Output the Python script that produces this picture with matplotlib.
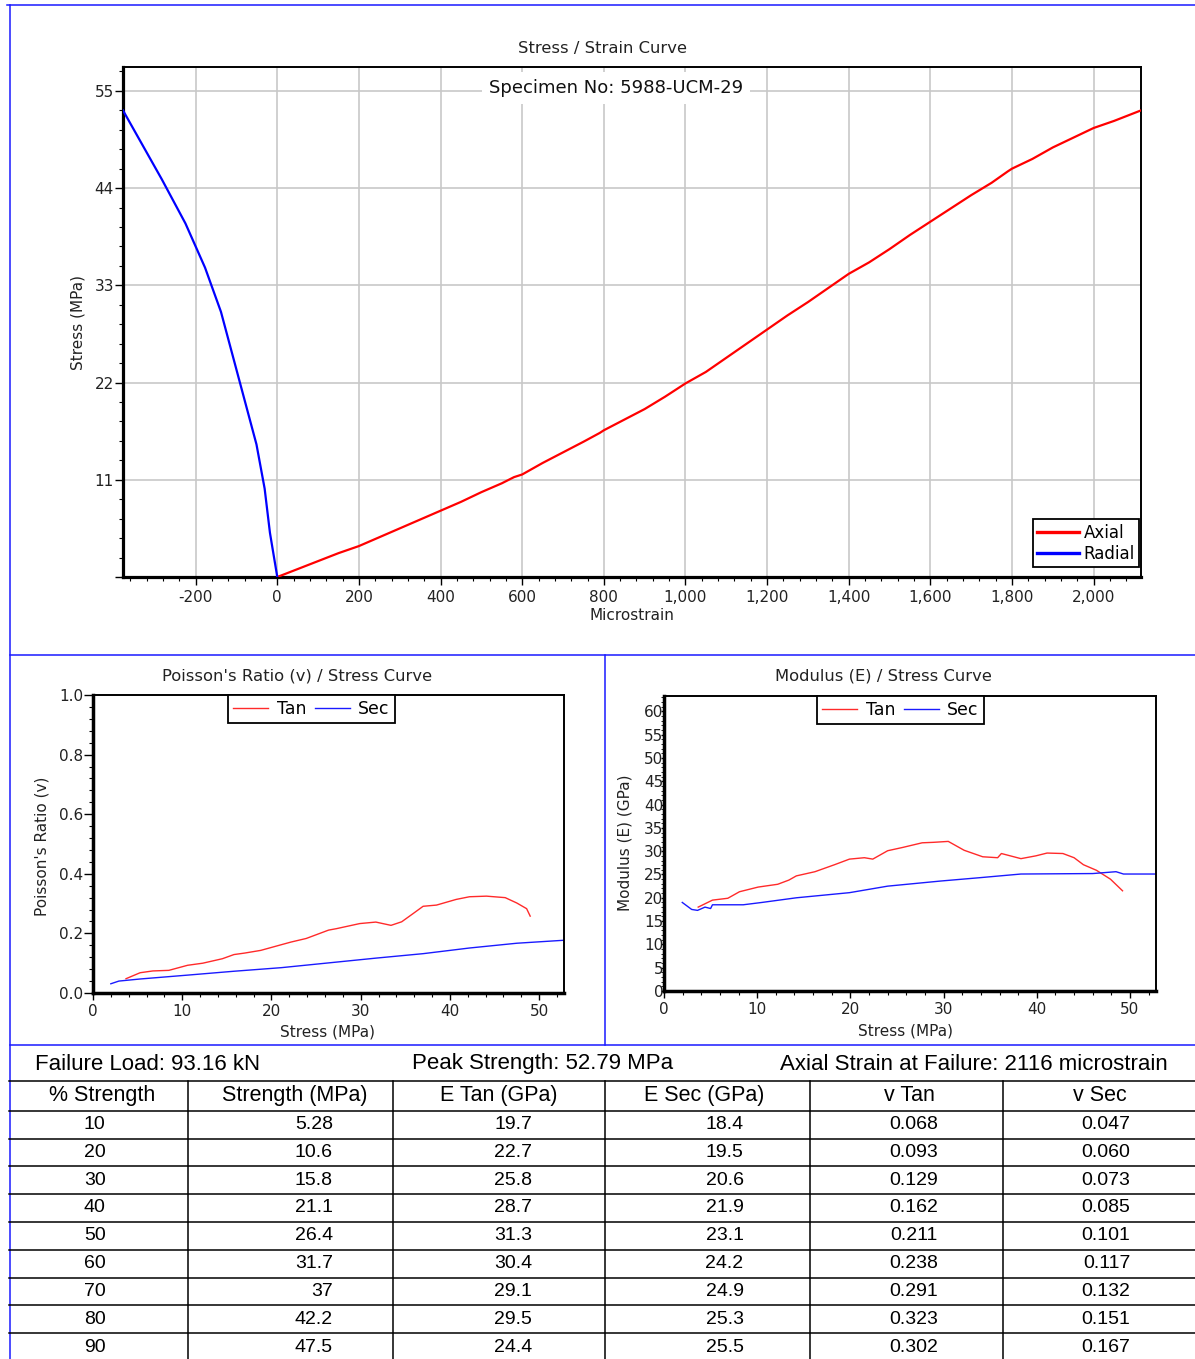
import matplotlib
matplotlib.use("Agg")
import matplotlib.pyplot as plt
from matplotlib.lines import Line2D
from matplotlib.ticker import MultipleLocator, FuncFormatter

# ---------------- data ----------------
specimen = "5988-UCM-29"
failure_load = 93.16      # kN
peak_strength = 52.79     # MPa
failure_strain = 2116     # microstrain

axial_strain = [0, 50, 100, 150, 200, 250, 300, 350, 400, 450, 500, 550, 580, 600,
                650, 700, 750, 790, 800, 850, 900, 950, 1000, 1050, 1100, 1150, 1200,
                1250, 1300, 1350, 1400, 1450, 1500, 1550, 1600, 1650, 1700, 1750, 1790,
                1800, 1850, 1900, 1950, 2000, 2050, 2116]
axial_stress = [0, 0.9, 1.8, 2.7, 3.5, 4.5, 5.5, 6.5, 7.5, 8.5, 9.6, 10.6, 11.3, 11.6,
                12.9, 14.1, 15.3, 16.3, 16.6, 17.8, 19.0, 20.4, 21.9, 23.2, 24.8, 26.4, 28.0,
                29.6, 31.1, 32.7, 34.3, 35.6, 37.1, 38.7, 40.2, 41.7, 43.2, 44.6, 45.9,
                46.2, 47.3, 48.6, 49.7, 50.8, 51.6, 52.79]

radial_strain = [0, -18, -31, -51, -80, -109, -138, -177, -225, -283, -344, -378]
radial_stress = [0, 5, 10, 15, 20, 25, 30, 35, 40, 45, 50, 52.79]

pr_tan_stress = [3.7, 5.28, 6.7, 8.5, 10.6, 12.3, 14.5, 15.8, 17.0, 18.8, 21.1, 22.2, 23.9,
                 26.4, 27.3, 29.9, 31.7, 33.4, 34.6, 35.9, 37.0, 38.5, 40.7, 42.2, 44.1,
                 46.2, 47.5, 48.6, 49.0]
pr_tan = [0.048, 0.068, 0.074, 0.076, 0.093, 0.100, 0.115, 0.129, 0.134, 0.143, 0.162,
          0.171, 0.183, 0.211, 0.216, 0.233, 0.238, 0.227, 0.239, 0.267, 0.291, 0.295,
          0.314, 0.323, 0.325, 0.320, 0.302, 0.283, 0.258]

pr_sec_stress = [2.0, 2.9, 5.28, 10.6, 15.8, 21.1, 26.4, 31.7, 37.0, 42.2, 47.5, 52.79]
pr_sec = [0.031, 0.040, 0.047, 0.060, 0.073, 0.085, 0.101, 0.117, 0.132, 0.151, 0.167, 0.177]

e_tan_stress = [3.67, 5.2, 6.85, 8.1, 10.1, 12.2, 13.4, 14.2, 16.2, 18.3, 19.9, 21.5, 22.4,
                24.0, 25.6, 27.7, 28.9, 30.5, 32.2, 34.2, 35.8, 36.2, 38.3, 39.9, 41.1,
                42.8, 44.0, 45.0, 46.4, 47.9, 49.2]
e_tan = [18.0, 19.5, 19.9, 21.3, 22.3, 22.9, 23.8, 24.7, 25.6, 27.1, 28.3, 28.6, 28.3,
         30.1, 30.8, 31.8, 31.9, 32.1, 30.2, 28.8, 28.6, 29.5, 28.4, 29.0, 29.6, 29.5,
         28.6, 27.1, 25.9, 24.0, 21.5]

e_sec_stress = [1.96, 2.97, 3.6, 4.4, 5.0, 5.2, 8.5, 10.5, 14.2, 19.9, 24.0, 29.7, 33.8,
                38.3, 46.0, 48.5, 49.3, 52.79]
e_sec = [19.0, 17.5, 17.3, 18.0, 17.7, 18.5, 18.5, 19.0, 20.0, 21.1, 22.5, 23.6, 24.3,
         25.1, 25.2, 25.6, 25.1, 25.1]

# summary table
pct_strength = [10, 20, 30, 40, 50, 60, 70, 80, 90]
strength_mpa = [5.28, 10.6, 15.8, 21.1, 26.4, 31.7, 37, 42.2, 47.5]
e_tan_gpa = [19.7, 22.7, 25.8, 28.7, 31.3, 30.4, 29.1, 29.5, 24.4]
e_sec_gpa = [18.4, 19.5, 20.6, 21.9, 23.1, 24.2, 24.9, 25.3, 25.5]
v_tan = [0.068, 0.093, 0.129, 0.162, 0.211, 0.238, 0.291, 0.323, 0.302]
v_sec = [0.047, 0.060, 0.073, 0.085, 0.101, 0.117, 0.132, 0.151, 0.167]
table_headers = ["% Strength", "Strength (MPa)", "E Tan (GPa)", "E Sec (GPa)", "v Tan", "v Sec"]

# ---------------- layout helpers (pixel based) ----------------
W, H = 1195, 1359
plt.rcParams["font.family"] = ["DejaVu Sans"]
fig = plt.figure(figsize=(W / 100, H / 100), dpi=100)
fig.patch.set_facecolor("white")


def box(x0, y0, x1, y1):
    return [x0 / W, 1 - y1 / H, (x1 - x0) / W, (y1 - y0) / H]


def hline(y, x0, x1, color, lw):
    fig.add_artist(Line2D([x0 / W, x1 / W], [1 - y / H, 1 - y / H],
                          transform=fig.transFigure, color=color, lw=lw))


def vline(x, y0, y1, color, lw):
    fig.add_artist(Line2D([x / W, x / W], [1 - y0 / H, 1 - y1 / H],
                          transform=fig.transFigure, color=color, lw=lw))


LABEL_C = "#222222"
TICK_FS = 11
AXLAB_FS = 11
TITLE_FS = 11.8


def style_spines(ax, heavy=2.3, light=1.4):
    ax.spines["left"].set_linewidth(heavy)
    ax.spines["bottom"].set_linewidth(heavy)
    ax.spines["top"].set_linewidth(light)
    ax.spines["right"].set_linewidth(light)
    for s in ax.spines.values():
        s.set_color("black")


def place_labels(ax, ax_box_px, xl_px, yl_px):
    x0, y0, x1, y1 = ax_box_px
    ax.xaxis.label.set_va("center")
    ax.yaxis.label.set_va("center")
    ax.xaxis.set_label_coords((xl_px[0] - x0) / (x1 - x0), (y1 - xl_px[1]) / (y1 - y0))
    ax.yaxis.set_label_coords((yl_px[0] - x0) / (x1 - x0), (y1 - yl_px[1]) / (y1 - y0))


def small_legend(ax, x_anchor):
    lg = ax.legend(loc="upper left", bbox_to_anchor=(x_anchor, 1.0), ncol=2, frameon=True,
                   fancybox=False, edgecolor="black", framealpha=1, fontsize=12.5,
                   handlelength=2.0, handletextpad=0.5, columnspacing=0.5,
                   borderpad=0.3, borderaxespad=0)
    lg.get_frame().set_linewidth(1.3)
    return lg


# ---------------- Stress / Strain curve ----------------
top_box = (123, 67, 1141, 577)
ax = fig.add_axes(box(*top_box))
ax.plot(axial_strain, axial_stress, color="#ff0000", lw=1.6, label="Axial", zorder=3)
ax.plot(radial_strain, radial_stress, color="#0000ff", lw=1.6, label="Radial", zorder=3)
ax.set_xlim(min(radial_strain), failure_strain)
ax.set_ylim(0, 57.7)
ax.xaxis.set_major_locator(MultipleLocator(200))
ax.xaxis.set_minor_locator(MultipleLocator(40))
ax.xaxis.set_major_formatter(FuncFormatter(lambda v, p: f"{int(round(v)):,}"))
ax.yaxis.set_major_locator(MultipleLocator(11))
ax.yaxis.set_minor_locator(MultipleLocator(2.2))
ax.yaxis.set_major_formatter(FuncFormatter(lambda v, p: "" if abs(v) < 1e-9 else f"{int(round(v))}"))
ax.grid(True, which="major", color="#c8c8c8", lw=1.2)
ax.set_axisbelow(True)
ax.tick_params(which="major", direction="out", length=6, width=1, labelsize=TICK_FS,
               labelcolor=LABEL_C)
ax.tick_params(axis="y", which="major", pad=0.5)
ax.tick_params(axis="x", which="major", pad=3)
ax.tick_params(which="minor", direction="out", length=3, width=0.8)
style_spines(ax)
ax.text(0.484, 0.959, f"Specimen No: {specimen}", transform=ax.transAxes, ha="center",
        va="center", fontsize=13, color="#111111", zorder=4,
        bbox=dict(facecolor="white", edgecolor="none", pad=5))
leg = ax.legend(loc="lower right", bbox_to_anchor=(0.998, 0.0196), frameon=True,
                fancybox=False, edgecolor="black", framealpha=1, fontsize=12,
                handlelength=2.5, handletextpad=0.3, borderpad=0.25, labelspacing=0.2,
                borderaxespad=0)
leg.get_frame().set_linewidth(1.3)
for ln in leg.get_lines():
    ln.set_linewidth(2.4)
ax.set_xlabel("Microstrain", fontsize=AXLAB_FS, color=LABEL_C)
ax.set_ylabel("Stress (MPa)", fontsize=AXLAB_FS, color=LABEL_C)
place_labels(ax, top_box, (632, 615), (78, 322))
fig.text(603 / W, 1 - 48 / H, "Stress / Strain Curve", ha="center", va="center",
         fontsize=TITLE_FS, color=LABEL_C)

# ---------------- Poisson's ratio curve ----------------
pr_box = (93, 695, 564, 993)
ax2 = fig.add_axes(box(*pr_box))
ax2.plot(pr_tan_stress, pr_tan, color="#ff2a2a", lw=1.0, label="Tan")
ax2.plot(pr_sec_stress, pr_sec, color="#1a1aff", lw=1.0, label="Sec")
ax2.set_xlim(0, peak_strength)
ax2.set_ylim(0, 1.0)
ax2.xaxis.set_major_locator(MultipleLocator(10))
ax2.xaxis.set_minor_locator(MultipleLocator(2))
ax2.yaxis.set_major_locator(MultipleLocator(0.2))
ax2.yaxis.set_minor_locator(MultipleLocator(0.04))
ax2.yaxis.set_major_formatter(FuncFormatter(lambda v, p: f"{v:.1f}"))
ax2.tick_params(which="major", direction="out", length=6.5, width=1, labelsize=TICK_FS,
                labelcolor=LABEL_C)
ax2.tick_params(axis="y", which="major", pad=0.5)
ax2.tick_params(axis="x", which="major", length=5, pad=3)
ax2.tick_params(which="minor", direction="out", length=3, width=0.8)
style_spines(ax2, heavy=2.5)
small_legend(ax2, 0.2866)
ax2.set_xlabel("Stress (MPa)", fontsize=AXLAB_FS, color=LABEL_C)
ax2.set_ylabel("Poisson's Ratio (v)", fontsize=AXLAB_FS, color=LABEL_C)
place_labels(ax2, pr_box, (327, 1032), (42, 846))
fig.text(297 / W, 1 - 676 / H, "Poisson's Ratio (v) / Stress Curve", ha="center",
         va="center", fontsize=TITLE_FS, color=LABEL_C)

# ---------------- Modulus curve ----------------
e_box = (664, 696, 1156, 991)
ax3 = fig.add_axes(box(*e_box))
ax3.plot(e_tan_stress, e_tan, color="#ff2a2a", lw=1.0, label="Tan")
ax3.plot(e_sec_stress, e_sec, color="#1a1aff", lw=1.0, label="Sec")
ax3.set_xlim(0, peak_strength)
ax3.set_ylim(0, 63.3)
ax3.xaxis.set_major_locator(MultipleLocator(10))
ax3.xaxis.set_minor_locator(MultipleLocator(2))
ax3.yaxis.set_major_locator(MultipleLocator(5))
ax3.yaxis.set_minor_locator(MultipleLocator(1))
ax3.tick_params(which="major", direction="out", length=5, width=1, labelsize=TICK_FS,
                labelcolor=LABEL_C)
ax3.tick_params(axis="x", which="major", pad=3)
ax3.tick_params(axis="y", which="both", length=2, pad=-1.5)
ax3.tick_params(axis="x", which="minor", direction="out", length=3, width=0.8)
style_spines(ax3, heavy=2.5)
small_legend(ax3, 0.311)
ax3.set_xlabel("Stress (MPa)", fontsize=AXLAB_FS, color=LABEL_C)
ax3.set_ylabel("Modulus (E) (GPa)", fontsize=AXLAB_FS, color=LABEL_C)
place_labels(ax3, e_box, (905, 1031), (625, 843))
fig.text(883 / W, 1 - 676 / H, "Modulus (E) / Stress Curve", ha="center", va="center",
         fontsize=TITLE_FS, color=LABEL_C)

# ---------------- panel frame ----------------
FRAME = "#1a1aff"
hline(5, 7, W, FRAME, 1.1)
vline(9.5, 5, H, FRAME, 1.1)
hline(655, 9.5, W, FRAME, 1.1)
vline(605, 655, 1045, FRAME, 1.1)
hline(1045, 9.5, W, FRAME, 1.1)

# ---------------- summary table ----------------
TFONT = ["Liberation Sans", "DejaVu Sans"]
info_y = 1064
fig.text(35 / W, 1 - info_y / H, f"Failure Load: {failure_load:.2f} kN", ha="left",
         va="center", fontsize=16, family=TFONT)
fig.text(411.5 / W, 1 - info_y / H, f"Peak Strength: {peak_strength:.2f} MPa", ha="left",
         va="center", fontsize=16, family=TFONT)
fig.text(780.5 / W, 1 - info_y / H, f"Axial Strain at Failure: {failure_strain} microstrain",
         ha="left", va="center", fontsize=16, family=TFONT)

head_top, head_bot, row_h = 1080.7, 1110.7, 27.8
col_edges = [188.3, 393.4, 604.6, 809.9, 1003]
col_right = [105.6, 333, 532, 743.5, 938, 1130.5]
head_center = [102, 294.5, 499, 704, 909, 1100]

hline(head_top, 8.5, W, "black", 1.1)
for i in range(len(pct_strength)):
    hline(head_bot + i * row_h, 8.5, W, "black", 1.1)
for x in col_edges:
    vline(x, head_top, H, "black", 1.1)

for xc, txt in zip(head_center, table_headers):
    fig.text(xc / W, 1 - (head_top + head_bot) / 2 / H, txt, ha="center", va="center",
             fontsize=15.5, family=TFONT)

columns = [
    [f"{v}" for v in pct_strength],
    [f"{v:.3g}" for v in strength_mpa],
    [f"{v:.3g}" for v in e_tan_gpa],
    [f"{v:.3g}" for v in e_sec_gpa],
    [f"{v:.3f}" for v in v_tan],
    [f"{v:.3f}" for v in v_sec],
]
for xr, col in zip(col_right, columns):
    for i, txt in enumerate(col):
        yc = head_bot + (i + 0.5) * row_h
        fig.text(xr / W, 1 - yc / H, txt, ha="right", va="center", fontsize=14,
                 family=TFONT)

fig.savefig("out.png", dpi=100, facecolor="white")
